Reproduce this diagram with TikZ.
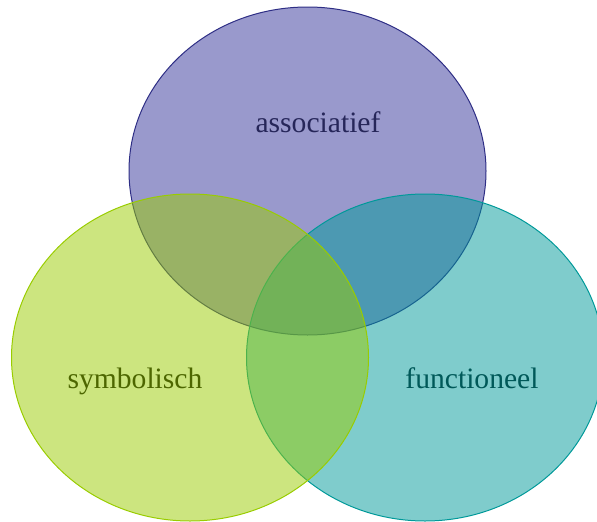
\documentclass[tikz,border=0pt]{standalone}
\usepackage{fontspec}
\setmainfont{Liberation Serif}
\definecolor{purp}{HTML}{333399}
\definecolor{purpedge}{HTML}{2E2E85}
\definecolor{grn}{HTML}{99CC00}
\definecolor{tea}{HTML}{009999}
\definecolor{purptext}{HTML}{262659}
\definecolor{grntext}{HTML}{4D6600}
\definecolor{teatext}{HTML}{005959}
\tikzset{
  setshape/.style={fill opacity=0.5, draw opacity=1, line width=1pt},
  lbl/.style={anchor=base, font=\fontsize{29.6}{32}\selectfont, inner sep=0pt}
}
\begin{document}
\begin{tikzpicture}[x=1pt,y=-1pt]
\useasboundingbox (0,0) rectangle (597,522);
\begin{scope}
\clip (0,0) rectangle (597,522);
\path[setshape, fill=purp, draw=purpedge] (307.5,171) ellipse [x radius=178.5, y radius=164];
\path[setshape, fill=tea, draw=tea] (425,357.5) ellipse [x radius=178.5, y radius=163.5];
\path[setshape, fill=grn, draw=grn] (190,357.5) ellipse [x radius=178.5, y radius=163.5];
\end{scope}
\node[lbl, text=purptext] (assoc) at (318,132) {associatief};
\node[lbl, text=grntext] (symb) at (135,388) {symbolisch};
\node[lbl, text=teatext] (func) at (472,388) {functioneel};
\end{tikzpicture}
\end{document}
